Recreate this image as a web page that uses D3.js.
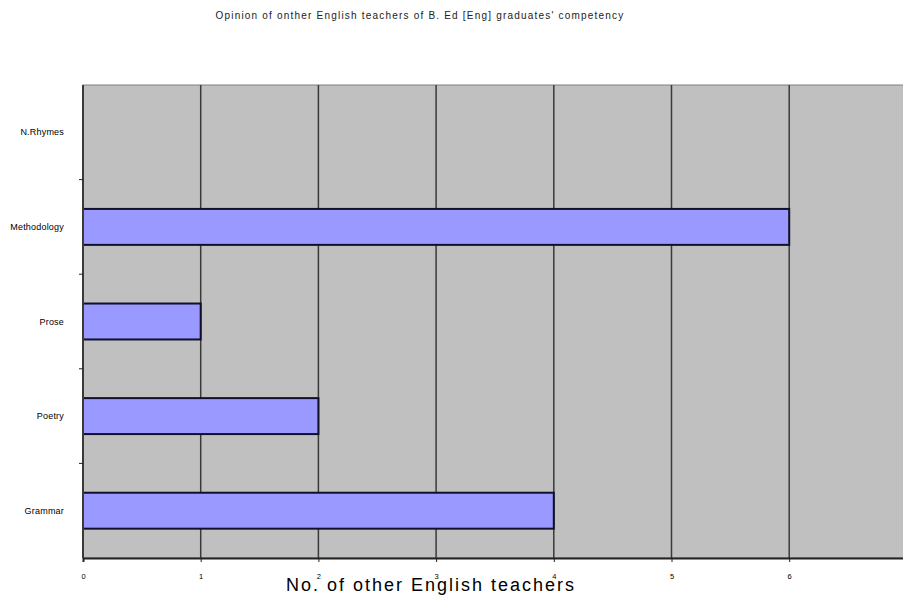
<!DOCTYPE html>
<html>
<head>
<meta charset="utf-8">
<script src="https://cdn.jsdelivr.net/npm/d3@7"></script>
<style>
body { margin: 0; background: #fff; }
svg { display: block; }
</style>
</head>
<body>
<script>
var categories = ["N.Rhymes", "Methodology", "Prose", "Poetry", "Grammar"];
var values = [0, 6, 1, 2, 4];
var xTicks = [0, 1, 2, 3, 4, 5, 6, 7];

var width = 903, height = 597;
var plotLeft = 83, plotTop = 85, plotBottom = 558;
var unit = 117.7;

var svg = d3.select("body")
    .append("svg")
    .attr("width", width)
    .attr("height", height);

var x = d3.scaleLinear()
    .domain([0, 7])
    .range([plotLeft, plotLeft + 7 * unit]);

var y = d3.scaleBand()
    .domain(categories)
    .range([plotTop, plotBottom])
    .paddingInner(0.62)
    .paddingOuter(0.31);

var band = d3.scaleBand().domain(categories).range([plotTop, plotBottom]);

// plot background
svg.append("rect")
    .attr("x", plotLeft)
    .attr("y", plotTop)
    .attr("width", x(7) - plotLeft)
    .attr("height", plotBottom - plotTop)
    .attr("fill", "#c0c0c0")
    .attr("stroke", "#808080")
    .attr("stroke-width", 1);

// vertical gridlines
svg.append("g")
    .selectAll("line")
    .data(xTicks.slice(1))
    .enter()
    .append("line")
    .attr("x1", function (d) { return x(d); })
    .attr("x2", function (d) { return x(d); })
    .attr("y1", plotTop)
    .attr("y2", plotBottom)
    .attr("stroke", "#3a3a3a")
    .attr("stroke-width", 1.5);

// bars
svg.append("g")
    .selectAll("rect")
    .data(values)
    .enter()
    .append("rect")
    .attr("x", x(0))
    .attr("y", function (d, i) { return y(categories[i]); })
    .attr("width", function (d) { return x(d) - x(0); })
    .attr("height", y.bandwidth())
    .attr("fill", "#9999ff")
    .attr("stroke", "#10102a")
    .attr("stroke-width", function (d) { return d > 0 ? 2 : 0; });

// x axis
var xAxis = svg.append("g")
    .attr("transform", "translate(0," + plotBottom + ")")
    .call(d3.axisBottom(x).tickValues(xTicks).tickSize(4).tickPadding(12).tickFormat(d3.format("d")));
xAxis.select(".domain").attr("stroke", "#222").attr("stroke-width", 2);
xAxis.selectAll(".tick line").attr("stroke", "#222");
xAxis.selectAll("text")
    .attr("font-family", "Liberation Sans, Arial, sans-serif")
    .attr("font-size", 7.5)
    .attr("fill", "#000");

// y axis line and ticks at category boundaries
svg.append("line")
    .attr("x1", plotLeft).attr("x2", plotLeft)
    .attr("y1", plotTop).attr("y2", plotBottom)
    .attr("stroke", "#3a3a3a")
    .attr("stroke-width", 2);

svg.append("g")
    .selectAll("line")
    .data(categories.slice(1))
    .enter()
    .append("line")
    .attr("x1", plotLeft - 4)
    .attr("x2", plotLeft)
    .attr("y1", function (d) { return band(d); })
    .attr("y2", function (d) { return band(d); })
    .attr("stroke", "#222");

svg.append("g")
    .selectAll("text")
    .data(categories)
    .enter()
    .append("text")
    .attr("x", 64)
    .attr("y", function (d) { return band(d) + band.bandwidth() / 2; })
    .attr("dy", "0.35em")
    .attr("text-anchor", "end")
    .attr("font-family", "Liberation Sans, Arial, sans-serif")
    .attr("font-size", 9)
    .attr("letter-spacing", 0.2)
    .text(function (d) { return d; });

// title
svg.append("text")
    .attr("x", 420)
    .attr("y", 19)
    .attr("text-anchor", "middle")
    .attr("font-family", "Liberation Sans, Arial, sans-serif")
    .attr("font-size", 10)
    .attr("letter-spacing", 1.2)
    .attr("fill", "#222")
    .text("Opinion of onther English teachers of B. Ed [Eng] graduates' competency");

// x axis title
svg.append("text")
    .attr("x", 431)
    .attr("y", 591)
    .attr("text-anchor", "middle")
    .attr("font-family", "Liberation Sans, Arial, sans-serif")
    .attr("font-size", 18)
    .attr("letter-spacing", 2)
    .attr("fill", "#000")
    .text("No. of other English teachers");
</script>
</body>
</html>
